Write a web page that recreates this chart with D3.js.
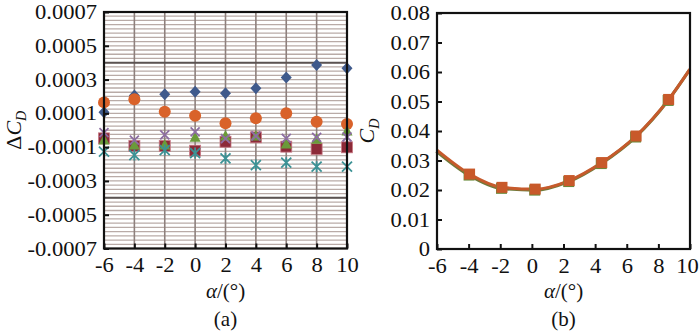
<!DOCTYPE html>
<html>
<head>
<meta charset="utf-8">
<script src="https://cdn.jsdelivr.net/npm/d3@7"></script>
<style>
body { margin: 0; background: #fff; }
svg text { font-family: "Liberation Serif", "Times New Roman", serif; fill: #111; }
.grid-h { stroke: #b9aba7; stroke-width: 1.3; }
.grid-v { stroke: #8e807d; stroke-width: 1.6; }
.grid-major { stroke: #5b5352; stroke-width: 2; }
.frame { fill: none; stroke: #111; stroke-width: 2.2; }
.axis path { display: none; }
.axis line { stroke: #111; stroke-width: 2; }
</style>
</head>
<body>
<script>
var w = 700;
var h = 332;

// angle of attack
var alphas = [-6, -4, -2, 0, 2, 4, 6, 8, 10];
var xTicks = [-6, -4, -2, 0, 2, 4, 6, 8, 10];

// (a) delta CD, six series
var dBlue   = [0.000106, 0.000205, 0.000213, 0.000228, 0.000219, 0.000248, 0.000313, 0.000386, 0.000367];
var dOrange = [0.000165, 0.000183, 0.000110, 0.000086, 0.000041, 0.000071, 0.000100, 0.000051, 0.000037];
var dRed    = [-0.000048, -0.000093, -0.000093, -0.000121, -0.000068, -0.000042, -0.000097, -0.000111, -0.000101];
var dGreen  = [-0.000058, -0.000087, -0.000087, -0.000042, -0.000034, -0.000034, -0.000081, -0.000054, -0.000005];
var dPurple = [-0.000014, -0.000058, -0.000028, -0.000009, -0.000050, -0.000034, -0.000048, -0.000042, -0.000040];
var dTeal   = [-0.000127, -0.000147, -0.000117, -0.000135, -0.000166, -0.000206, -0.000192, -0.000216, -0.000216];
var aTicks = [-0.0007, -0.0005, -0.0003, -0.0001, 0.0001, 0.0003, 0.0005, 0.0007];
var aMajor = [-0.0004, 0.0004];

// (b) CD curve
var cdAlpha = [-6, -3.94, -1.89, 0.21, 2.36, 4.42, 6.59, 8.65, 10];
var cdValue = [0.0335, 0.0254, 0.0209, 0.0203, 0.0232, 0.0293, 0.0383, 0.0507, 0.061];
var bTicks = [0, 0.01, 0.02, 0.03, 0.04, 0.05, 0.06, 0.07, 0.08];

var stretch = 1.1;
var fontFam = "'Liberation Serif', 'Times New Roman', serif";

var svg = d3.select("body")
    .append("svg")
    .attr("width", w)
    .attr("height", h)
    .attr("font-family", fontFam);

function stretchText(g){
    g.attr("font-family", fontFam).attr("font-size", 20.5);
    g.selectAll(".tick text").each(function(){
        var t = d3.select(this);
        t.attr("x", (+t.attr("x") || 0) / stretch)
         .attr("transform", "scale(" + stretch + ",1)");
    });
}

function hyphen(f){
    return function(d){ return f(d).replace("\u2212", "-"); };
}

// ---------- panel (a) ----------
var ax = d3.scaleLinear().domain([-6, 10]).range([104, 347]);
var ay = d3.scaleLinear().domain([-0.0007, 0.0007]).range([248.5, 12]);

var gridVals = d3.range(-28, 29).map(function(i){ return i * 0.000025; });
svg.append("g").selectAll("line")
    .data(gridVals)
    .enter().append("line")
    .attr("class", "grid-h")
    .attr("x1", ax(-6)).attr("x2", ax(10))
    .attr("y1", function(d){ return ay(d); })
    .attr("y2", function(d){ return ay(d); });

svg.append("g").selectAll("line")
    .data(xTicks)
    .enter().append("line")
    .attr("class", "grid-v")
    .attr("x1", function(d){ return ax(d); })
    .attr("x2", function(d){ return ax(d); })
    .attr("y1", ay(0.0007)).attr("y2", ay(-0.0007));

svg.append("g").selectAll("line")
    .data(aMajor)
    .enter().append("line")
    .attr("class", "grid-major")
    .attr("x1", ax(-6)).attr("x2", ax(10))
    .attr("y1", function(d){ return ay(d); })
    .attr("y2", function(d){ return ay(d); });

function pts(vals){
    return alphas.map(function(a, i){ return {x: a, y: vals[i]}; });
}

// diamonds
svg.append("g").selectAll("path")
    .data(pts(dBlue)).enter().append("path")
    .attr("transform", function(d){ return "translate(" + ax(d.x) + "," + ay(d.y) + ")"; })
    .attr("d", "M0,-6L5.5,0L0,6L-5.5,0Z")
    .attr("fill", "#3f5a8c");

// circles
svg.append("g").selectAll("circle")
    .data(pts(dOrange)).enter().append("circle")
    .attr("cx", function(d){ return ax(d.x); })
    .attr("cy", function(d){ return ay(d.y); })
    .attr("r", 6)
    .attr("fill", "#d9622a");

// squares
svg.append("g").selectAll("rect")
    .data(pts(dRed)).enter().append("rect")
    .attr("x", function(d){ return ax(d.x) - 5.5; })
    .attr("y", function(d){ return ay(d.y) - 5.5; })
    .attr("width", 11).attr("height", 11)
    .attr("fill", "#8c2a38")
    .attr("stroke", "#c97a86").attr("stroke-width", 0.8);

// triangles
svg.append("g").selectAll("path")
    .data(pts(dGreen)).enter().append("path")
    .attr("transform", function(d){ return "translate(" + ax(d.x) + "," + ay(d.y) + ")"; })
    .attr("d", "M0,-6L5.5,4.5L-5.5,4.5Z")
    .attr("fill", "#6a9a3a");

// purple crosses
svg.append("g").selectAll("path")
    .data(pts(dPurple)).enter().append("path")
    .attr("transform", function(d){ return "translate(" + ax(d.x) + "," + ay(d.y) + ")"; })
    .attr("d", "M-4.5,-4.5L4.5,4.5M-4.5,4.5L4.5,-4.5")
    .attr("stroke", "#8d6ea2").attr("stroke-width", 1.8).attr("fill", "none");

// teal stars
svg.append("g").selectAll("path")
    .data(pts(dTeal)).enter().append("path")
    .attr("transform", function(d){ return "translate(" + ax(d.x) + "," + ay(d.y) + ")"; })
    .attr("d", "M-5,-5L5,5M-5,5L5,-5M0,-5.5L0,5.5")
    .attr("stroke", "#3c9295").attr("stroke-width", 1.8).attr("fill", "none");

svg.append("rect")
    .attr("class", "frame")
    .attr("x", ax(-6)).attr("y", ay(0.0007))
    .attr("width", ax(10) - ax(-6)).attr("height", ay(-0.0007) - ay(0.0007));

svg.append("g")
    .attr("class", "axis")
    .attr("transform", "translate(0," + ay(-0.0007) + ")")
    .call(d3.axisBottom(ax).tickValues(xTicks).tickSize(-5).tickPadding(9).tickFormat(hyphen(d3.format("d"))))
    .call(stretchText);

svg.append("g")
    .attr("class", "axis")
    .attr("transform", "translate(" + ax(-6) + ",0)")
    .call(d3.axisLeft(ay).tickValues(aTicks).tickSize(-5).tickPadding(7).tickFormat(hyphen(d3.format(".4f"))))
    .call(stretchText);

// ---------- panel (b) ----------
var bx = d3.scaleLinear().domain([-6, 10]).range([437, 690]);
var by = d3.scaleLinear().domain([0, 0.08]).range([249, 13]);

var cd = cdAlpha.map(function(a, i){ return {x: a, y: cdValue[i]}; });
var line = d3.line()
    .x(function(d){ return bx(d.x); })
    .y(function(d){ return by(d.y); })
    .curve(d3.curveMonotoneX);

svg.append("path")
    .datum(cd)
    .attr("d", line)
    .attr("transform", "translate(-0.6,1)")
    .attr("fill", "none")
    .attr("stroke", "#6f7a3a").attr("stroke-width", 3.2);
svg.append("path")
    .datum(cd)
    .attr("d", line)
    .attr("fill", "none")
    .attr("stroke", "#c65a2c").attr("stroke-width", 3);

var mk = cd.slice(1, cd.length - 1);
svg.append("g").selectAll("rect")
    .data(mk).enter().append("rect")
    .attr("x", function(d){ return bx(d.x) - 6; })
    .attr("y", function(d){ return by(d.y) - 4.5; })
    .attr("width", 11).attr("height", 11)
    .attr("fill", "#6a8a3a");
svg.append("g").selectAll("rect")
    .data(mk).enter().append("rect")
    .attr("x", function(d){ return bx(d.x) - 5.5; })
    .attr("y", function(d){ return by(d.y) - 5.5; })
    .attr("width", 11).attr("height", 11)
    .attr("fill", "#c8592a");

svg.append("rect")
    .attr("class", "frame")
    .attr("x", bx(-6)).attr("y", by(0.08))
    .attr("width", bx(10) - bx(-6)).attr("height", by(0) - by(0.08));

svg.append("g")
    .attr("class", "axis")
    .attr("transform", "translate(0," + by(0) + ")")
    .call(d3.axisBottom(bx).tickValues(xTicks).tickSize(-5).tickPadding(9).tickFormat(hyphen(d3.format("d"))))
    .call(stretchText)
    .selectAll(".tick text").filter(function(d){ return d === 10; })
    .attr("x", -3 / stretch);

svg.append("g")
    .attr("class", "axis")
    .attr("transform", "translate(" + bx(-6) + ",0)")
    .call(d3.axisLeft(by).tickValues(bTicks).tickSize(-5).tickPadding(7).tickFormat(function(d){ return d === 0 ? "0" : d3.format(".2f")(d); }))
    .call(stretchText);

// ---------- titles ----------
function alphaLabel(cx){
    var t = svg.append("text")
        .attr("x", cx).attr("y", 298)
        .attr("text-anchor", "middle")
        .style("font-size", "21px");
    t.append("tspan").style("font-style", "italic").text("α");
    t.append("tspan").text("/(°)");
}
alphaLabel(ax(2));
alphaLabel(bx(2));

svg.append("text").attr("x", ax(2)).attr("y", 326).attr("text-anchor", "middle")
    .style("font-size", "21px").text("(a)");
svg.append("text").attr("x", bx(2)).attr("y", 326).attr("text-anchor", "middle")
    .style("font-size", "21px").text("(b)");

var ylA = svg.append("text")
    .attr("transform", "translate(21," + ay(0) + ") rotate(-90)")
    .attr("text-anchor", "middle")
    .style("font-size", "22px");
ylA.append("tspan").text("Δ");
ylA.append("tspan").style("font-style", "italic").text("C");
ylA.append("tspan").style("font-style", "italic").style("font-size", "14px").attr("dy", 5).text("D");

var ylB = svg.append("text")
    .attr("transform", "translate(374," + by(0.04) + ") rotate(-90)")
    .attr("text-anchor", "middle")
    .style("font-size", "22px");
ylB.append("tspan").style("font-style", "italic").text("C");
ylB.append("tspan").style("font-style", "italic").style("font-size", "14px").attr("dy", 5).text("D");
</script>
</body>
</html>
